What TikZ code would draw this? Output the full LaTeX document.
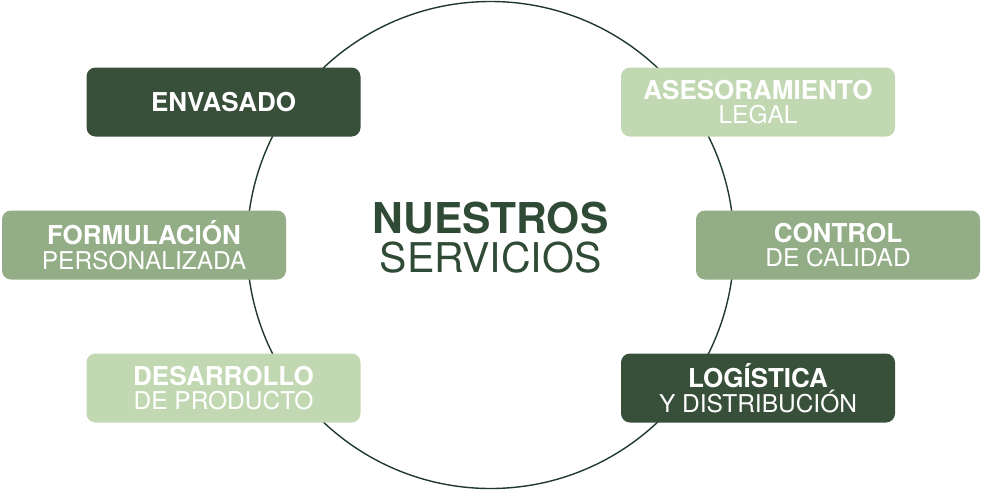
\documentclass[tikz,border=0pt]{standalone}
\usepackage{fontspec}
\setmainfont{TeX Gyre Heros}
\usetikzlibrary{positioning}

\definecolor{verdeoscuro}{HTML}{384F3A}
\definecolor{verdemedio}{HTML}{93AD86}
\definecolor{verdeclaro}{HTML}{C1D8B2}
\definecolor{lineacirculo}{HTML}{1F3A2A}
\definecolor{titulo}{HTML}{2F4A35}

\newcommand{\negrita}[1]{{\fontsize{26}{24.5}\selectfont\bfseries #1}}

\tikzset{
    servicio/.style={rounded corners=9pt, minimum height=69pt, inner sep=0pt,
        align=center, text=white, font=\fontsize{24.5}{24.5}\selectfont},
}

\begin{document}
\begin{tikzpicture}[x=1pt, y=-1pt]
        \useasboundingbox (0,0) rectangle (982,490);
        \node [draw=lineacirculo, line width=1.4pt, circle, minimum size=487pt, inner sep=0pt] (circulo) at (490.5,245) {};
        \node [align=center, text=titulo, font=\fontsize{41}{39}\selectfont] (centro) at (490.5,237.5) {{\fontsize{42.5}{39}\selectfont\bfseries NUESTROS}\\SERVICIOS};
        \node [servicio, fill=verdeoscuro, minimum width=274pt] (envasado) at (223.5,102) {\negrita{ENVASADO}};
        \node [servicio, fill=verdemedio, minimum width=284pt] (formulacion) at (144,245) {\negrita{FORMULACIÓN}\\PERSONALIZADA};
        \node [servicio, fill=verdeclaro, minimum width=274pt] (desarrollo) at (223.5,388) {\negrita{DESARROLLO}\\DE PRODUCTO};
        \node [servicio, fill=verdeclaro, minimum width=274pt] (asesoramiento) at (758,102) {\negrita{ASESORAMIENTO}\\LEGAL};
        \node [servicio, fill=verdemedio, minimum width=284pt] (control) at (838,245) {\negrita{CONTROL}\\DE CALIDAD};
        \node [servicio, fill=verdeoscuro, minimum width=274pt] (logistica) at (758,388) {\negrita{LOGÍSTICA}\\Y DISTRIBUCIÓN};
    \end{tikzpicture}
\end{document}
